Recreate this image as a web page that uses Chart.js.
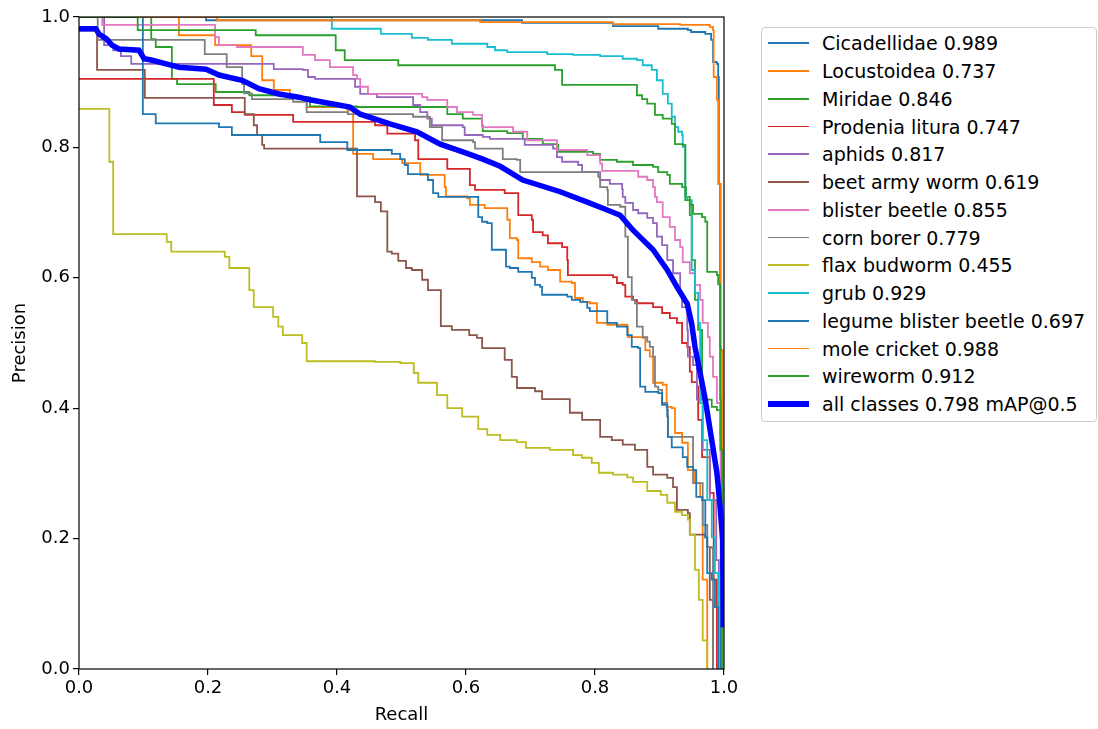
<!DOCTYPE html>
<html>
<head>
<meta charset="utf-8">
<title>Precision-Recall Curve</title>
<script src="https://cdn.jsdelivr.net/npm/chart.js@4.4.0/dist/chart.umd.min.js"></script>
<style>
    body { margin: 0; background: #fff; font-family: "DejaVu Sans", sans-serif; }
    #wrap { position: relative; width: 1098px; height: 729px; }
    #prChart { position: absolute; left: 0; top: 0; }
    .legend {
        position: absolute; left: 761px; top: 27px; width: 336px; height: 395px;
        border: 1px solid #cccccc; border-radius: 4px; box-sizing: border-box; background: #fff;
    }
    .legend-row { position: absolute; left: 0; width: 100%; height: 28px; line-height: 28px; font-size: 19px; color: #000; white-space: nowrap; }
    .legend-line { position: absolute; left: 6px; width: 41px; }
    .legend-label { position: absolute; left: 60px; top: 0; }
</style>
</head>
<body>
<div id="wrap">
    <canvas id="prChart" width="1098" height="729"></canvas>
    <div class="legend" id="prLegend"></div>
</div>
<script>
// Class names, AP@0.5 and colours (matplotlib tab10 cycle)
const classNames = ['Cicadellidae', 'Locustoidea', 'Miridae', 'Prodenia litura', 'aphids', 'beet army worm',
    'blister beetle', 'corn borer', 'flax budworm', 'grub', 'legume blister beetle', 'mole cricket', 'wireworm'];
const classAP = [0.989, 0.737, 0.846, 0.747, 0.817, 0.619, 0.855, 0.779, 0.455, 0.929, 0.697, 0.988, 0.912];
const classColors = ['#1f77b4', '#ff7f0e', '#2ca02c', '#d62728', '#9467bd', '#8c564b',
    '#e377c2', '#7f7f7f', '#bcbd22', '#17becf', '#1f77b4', '#ff7f0e', '#2ca02c'];
const allClassesMAP = 0.798;

// Each curve: recall values where a precision plateau starts, and that plateau's precision
const cicadellidaeR = [0, 0.197, 0.687, 0.828, 0.898, 0.944, 0.949, 0.971, 0.980, 0.983, 0.989, 0.991, 0.992, 0.994, 0.995];
const cicadellidaeP = [1.0, 0.995, 0.991, 0.986, 0.982, 0.980, 0.977, 0.974, 0.965, 0.931, 0.928, 0.908, 0.744, 0.413, 0];

const locustoideaR = [0, 0.155, 0.211, 0.267, 0.284, 0.302, 0.327, 0.353, 0.416, 0.425, 0.456, 0.501, 0.529, 0.567, 0.569, 0.602,
    0.606, 0.629, 0.664, 0.668, 0.679, 0.681, 0.702, 0.715, 0.727, 0.746, 0.764, 0.769, 0.781, 0.792, 0.803, 0.819, 0.850, 0.851,
    0.874, 0.878, 0.885, 0.890, 0.905, 0.911, 0.919, 0.924, 0.935, 0.944, 0.955, 0.963, 0.967, 0.974];
const locustoideaP = [1.0, 0.972, 0.957, 0.940, 0.903, 0.888, 0.877, 0.862, 0.857, 0.790, 0.782, 0.776, 0.758, 0.739, 0.725, 0.722,
    0.712, 0.707, 0.689, 0.661, 0.658, 0.630, 0.624, 0.617, 0.612, 0.594, 0.592, 0.569, 0.563, 0.561, 0.531, 0.528, 0.525, 0.509,
    0.508, 0.489, 0.479, 0.439, 0.436, 0.402, 0.400, 0.362, 0.347, 0.305, 0.285, 0.264, 0.137, 0];

const miridaeR = [0, 0.112, 0.119, 0.144, 0.152, 0.212, 0.264, 0.327, 0.358, 0.431, 0.571, 0.595, 0.625, 0.626, 0.664, 0.688,
    0.718, 0.719, 0.741, 0.743, 0.797, 0.808, 0.834, 0.859, 0.890, 0.898, 0.912, 0.916, 0.935, 0.941, 0.947, 0.950, 0.955, 0.960,
    0.966, 0.981, 0.989, 0.994, 0.997];
const miridaeP = [1.0, 0.966, 0.954, 0.905, 0.897, 0.885, 0.880, 0.877, 0.863, 0.862, 0.851, 0.844, 0.834, 0.825, 0.822, 0.813,
    0.811, 0.805, 0.804, 0.793, 0.790, 0.781, 0.778, 0.773, 0.770, 0.762, 0.758, 0.744, 0.739, 0.724, 0.696, 0.627, 0.566, 0.520,
    0.413, 0.402, 0.397, 0.351, 0];

const prodeniaR = [0, 0.209, 0.237, 0.257, 0.332, 0.459, 0.478, 0.521, 0.526, 0.571, 0.606, 0.614, 0.660, 0.681, 0.702, 0.704,
    0.719, 0.727, 0.749, 0.757, 0.758, 0.828, 0.834, 0.843, 0.847, 0.859, 0.865, 0.890, 0.904, 0.916, 0.927, 0.935, 0.943, 0.947,
    0.950, 0.958, 0.960, 0.966, 0.978, 0.984, 0.989];
const prodeniaP = [0.905, 0.865, 0.854, 0.850, 0.839, 0.834, 0.821, 0.811, 0.782, 0.767, 0.742, 0.735, 0.730, 0.696, 0.689, 0.670,
    0.665, 0.653, 0.647, 0.627, 0.604, 0.601, 0.592, 0.589, 0.571, 0.566, 0.561, 0.555, 0.546, 0.538, 0.531, 0.500, 0.494, 0.456,
    0.440, 0.433, 0.382, 0.325, 0.270, 0.137, 0];

const aphidsR = [0, 0.039, 0.053, 0.065, 0.081, 0.302, 0.347, 0.355, 0.366, 0.428, 0.436, 0.462, 0.518, 0.529, 0.540, 0.547,
    0.595, 0.598, 0.626, 0.637, 0.691, 0.735, 0.741, 0.749, 0.774, 0.780, 0.808, 0.823, 0.842, 0.843, 0.847, 0.859, 0.867, 0.881,
    0.890, 0.896, 0.904, 0.912, 0.921, 0.932, 0.935, 0.943, 0.944, 0.952, 0.958, 0.967, 0.978, 0.988, 0.992];
const aphidsP = [1.0, 0.957, 0.949, 0.940, 0.928, 0.920, 0.919, 0.908, 0.905, 0.893, 0.882, 0.877, 0.865, 0.854, 0.844, 0.834,
    0.831, 0.819, 0.816, 0.813, 0.804, 0.798, 0.785, 0.778, 0.773, 0.762, 0.750, 0.744, 0.736, 0.724, 0.715, 0.704, 0.699, 0.692,
    0.684, 0.663, 0.650, 0.627, 0.607, 0.577, 0.555, 0.520, 0.479, 0.466, 0.413, 0.336, 0.259, 0.167, 0];

const beetArmyWormR = [0, 0.028, 0.102, 0.257, 0.271, 0.276, 0.284, 0.287, 0.431, 0.459, 0.468, 0.478, 0.485, 0.495, 0.507, 0.516,
    0.532, 0.541, 0.561, 0.578, 0.605, 0.617, 0.625, 0.660, 0.671, 0.679, 0.707, 0.718, 0.761, 0.780, 0.808, 0.826, 0.843, 0.862,
    0.881, 0.890, 0.912, 0.921, 0.927, 0.944, 0.947, 0.971, 0.974, 0.978, 0.983];
const beetArmyWormP = [0.979, 0.919, 0.876, 0.851, 0.834, 0.819, 0.804, 0.798, 0.725, 0.716, 0.702, 0.640, 0.637, 0.626, 0.615, 0.612,
    0.597, 0.581, 0.526, 0.520, 0.512, 0.508, 0.492, 0.474, 0.448, 0.431, 0.426, 0.414, 0.393, 0.382, 0.356, 0.351, 0.344, 0.336,
    0.310, 0.298, 0.293, 0.279, 0.244, 0.239, 0.206, 0.202, 0.187, 0.106, 0];

const blisterBeetleR = [0, 0.036, 0.211, 0.217, 0.245, 0.347, 0.366, 0.389, 0.425, 0.431, 0.436, 0.448, 0.532, 0.540, 0.571, 0.586,
    0.611, 0.625, 0.673, 0.695, 0.741, 0.788, 0.808, 0.811, 0.867, 0.881, 0.890, 0.893, 0.896, 0.905, 0.916, 0.924, 0.932, 0.936,
    0.947, 0.955, 0.963, 0.967, 0.975, 0.978, 0.983, 0.989, 0.994, 0.995, 0.997];
const blisterBeetleP = [1.0, 0.988, 0.969, 0.957, 0.954, 0.942, 0.934, 0.923, 0.911, 0.905, 0.893, 0.882, 0.877, 0.873, 0.862, 0.854,
    0.850, 0.831, 0.824, 0.811, 0.796, 0.788, 0.775, 0.764, 0.755, 0.750, 0.739, 0.724, 0.716, 0.693, 0.678, 0.658, 0.647, 0.624,
    0.607, 0.589, 0.566, 0.531, 0.509, 0.479, 0.448, 0.408, 0.336, 0.167, 0];

const cornBorerR = [0, 0.029, 0.195, 0.229, 0.253, 0.256, 0.268, 0.332, 0.353, 0.417, 0.518, 0.544, 0.563, 0.611, 0.614, 0.657,
    0.679, 0.684, 0.805, 0.808, 0.819, 0.820, 0.839, 0.847, 0.851, 0.857, 0.862, 0.865, 0.874, 0.881, 0.885, 0.890, 0.893, 0.898,
    0.904, 0.912, 0.913, 0.952, 0.967, 0.974, 0.981, 0.983];
const cornBorerP = [1.0, 0.965, 0.943, 0.923, 0.897, 0.883, 0.874, 0.870, 0.854, 0.851, 0.847, 0.831, 0.811, 0.808, 0.798, 0.782,
    0.781, 0.762, 0.755, 0.739, 0.735, 0.712, 0.709, 0.663, 0.601, 0.566, 0.561, 0.525, 0.509, 0.502, 0.494, 0.479, 0.433, 0.428,
    0.408, 0.397, 0.356, 0.285, 0.221, 0.187, 0.186, 0];

const flaxBudwormR = [0, 0.047, 0.053, 0.136, 0.143, 0.226, 0.233, 0.264, 0.271, 0.301, 0.309, 0.316, 0.346, 0.353, 0.459, 0.498,
    0.519, 0.526, 0.555, 0.571, 0.594, 0.619, 0.633, 0.653, 0.679, 0.693, 0.730, 0.766, 0.780, 0.795, 0.806, 0.828, 0.850, 0.859,
    0.881, 0.902, 0.912, 0.924, 0.935, 0.944, 0.947, 0.955, 0.961, 0.967, 0.974];
const flaxBudwormP = [0.859, 0.778, 0.667, 0.655, 0.640, 0.632, 0.615, 0.581, 0.555, 0.540, 0.525, 0.512, 0.500, 0.472, 0.471, 0.469,
    0.454, 0.439, 0.420, 0.400, 0.387, 0.368, 0.359, 0.351, 0.348, 0.339, 0.336, 0.328, 0.324, 0.316, 0.301, 0.298, 0.294, 0.287,
    0.273, 0.267, 0.255, 0.241, 0.236, 0.229, 0.206, 0.152, 0.106, 0.044, 0];

const grubR = [0, 0.392, 0.468, 0.516, 0.541, 0.578, 0.633, 0.645, 0.664, 0.726, 0.766, 0.808, 0.843, 0.865, 0.874, 0.888,
    0.896, 0.905, 0.913, 0.919, 0.924, 0.929, 0.935, 0.936, 0.940, 0.943, 0.950, 0.955, 0.960, 0.963, 0.967, 0.974, 0.981, 0.986, 0.991];
const grubP = [1.0, 0.982, 0.974, 0.968, 0.965, 0.959, 0.954, 0.949, 0.946, 0.943, 0.942, 0.940, 0.936, 0.934, 0.926, 0.919,
    0.903, 0.882, 0.867, 0.847, 0.831, 0.824, 0.819, 0.801, 0.724, 0.719, 0.612, 0.577, 0.531, 0.408, 0.351, 0.259, 0.202, 0.147, 0];

const legumeR = [0, 0.099, 0.119, 0.217, 0.237, 0.374, 0.416, 0.485, 0.498, 0.505, 0.510, 0.541, 0.549, 0.557, 0.619, 0.625,
    0.633, 0.640, 0.662, 0.668, 0.681, 0.702, 0.707, 0.715, 0.718, 0.757, 0.764, 0.777, 0.788, 0.792, 0.819, 0.834, 0.850, 0.857,
    0.867, 0.870, 0.878, 0.898, 0.904, 0.912, 0.913, 0.919, 0.936, 0.943, 0.952, 0.957, 0.966, 0.971, 0.974, 0.981, 0.986, 0.991];
const legumeP = [1.0, 0.851, 0.837, 0.831, 0.819, 0.808, 0.796, 0.790, 0.782, 0.773, 0.759, 0.750, 0.730, 0.724, 0.693, 0.686,
    0.684, 0.643, 0.617, 0.615, 0.609, 0.600, 0.589, 0.586, 0.574, 0.571, 0.566, 0.563, 0.554, 0.549, 0.531, 0.525, 0.512, 0.494,
    0.492, 0.433, 0.425, 0.423, 0.405, 0.387, 0.356, 0.340, 0.325, 0.310, 0.305, 0.264, 0.259, 0.202, 0.147, 0.137, 0.095, 0];

const moleCricketR = [0, 0.214, 0.622, 0.828, 0.932, 0.978, 0.983, 0.984, 0.989, 0.991, 0.995, 0.998];
const moleCricketP = [1.0, 0.995, 0.992, 0.989, 0.988, 0.985, 0.980, 0.908, 0.873, 0.744, 0.489, 0];

const wirewormR = [0, 0.091, 0.274, 0.398, 0.412, 0.495, 0.738, 0.749, 0.865, 0.873, 0.881, 0.893, 0.905, 0.919, 0.924, 0.936,
    0.940, 0.947, 0.952, 0.966, 0.971, 0.974, 0.989, 0.991, 0.994, 0.995, 0.997];
const wirewormP = [1.0, 0.980, 0.972, 0.949, 0.934, 0.926, 0.919, 0.896, 0.880, 0.874, 0.867, 0.850, 0.844, 0.836, 0.805, 0.804,
    0.719, 0.712, 0.698, 0.693, 0.686, 0.609, 0.604, 0.590, 0.494, 0.336, 0];

// Mean curve over all classes (drawn as a plain line)
const allClassesR = [0, 0.026, 0.031, 0.043, 0.051, 0.062, 0.093, 0.101, 0.112, 0.135, 0.155, 0.197, 0.217, 0.253, 0.279, 0.310,
    0.341, 0.358, 0.420, 0.436, 0.482, 0.524, 0.560, 0.595, 0.626, 0.653, 0.688, 0.746, 0.788, 0.819, 0.839, 0.859, 0.890, 0.912,
    0.927, 0.943, 0.950, 0.955, 0.963, 0.971, 0.981, 0.989, 0.994, 0.998, 0.999];
const allClassesP = [0.982, 0.982, 0.974, 0.966, 0.957, 0.951, 0.949, 0.936, 0.934, 0.928, 0.923, 0.920, 0.911, 0.903, 0.890, 0.882,
    0.877, 0.873, 0.862, 0.851, 0.836, 0.824, 0.805, 0.793, 0.782, 0.771, 0.750, 0.732, 0.716, 0.704, 0.696, 0.673, 0.643, 0.612,
    0.586, 0.560, 0.529, 0.494, 0.454, 0.413, 0.351, 0.301, 0.248, 0.198, 0.064];

const axisTicks = [0, 0.2, 0.4, 0.6, 0.8, 1.0];

const classCurves = [
    [cicadellidaeR, cicadellidaeP], [locustoideaR, locustoideaP], [miridaeR, miridaeP], [prodeniaR, prodeniaP],
    [aphidsR, aphidsP], [beetArmyWormR, beetArmyWormP], [blisterBeetleR, blisterBeetleP], [cornBorerR, cornBorerP],
    [flaxBudwormR, flaxBudwormP], [grubR, grubP], [legumeR, legumeP], [moleCricketR, moleCricketP], [wirewormR, wirewormP]
];

const fontFamily = '"DejaVu Sans", sans-serif';

function toPoints(rs, ps) {
    return rs.map((r, i) => ({ x: r, y: ps[i] }));
}

// Draws the four spines on top of the curves, like matplotlib
const frameSpines = {
    id: 'frameSpines',
    afterDatasetsDraw(chart) {
        const { ctx, chartArea: a } = chart;
        ctx.save();
        ctx.strokeStyle = '#000';
        ctx.lineWidth = 1.2;
        ctx.strokeRect(a.left, a.top, a.right - a.left, a.bottom - a.top);
        ctx.restore();
    }
};

function buildDatasets() {
    const sets = classCurves.map((c, i) => ({
        label: classNames[i] + ' ' + classAP[i].toFixed(3),
        data: toPoints(c[0], c[1]),
        borderColor: classColors[i],
        borderWidth: 1.8,
        stepped: 'before',
        pointRadius: 0,
        fill: false,
        order: -i
    }));
    sets.push({
        label: 'all classes ' + allClassesMAP.toFixed(3) + ' mAP@0.5',
        data: toPoints(allClassesR, allClassesP),
        borderColor: '#0000ff',
        borderWidth: 5.5,
        pointRadius: 0,
        fill: false,
        tension: 0,
        order: -classCurves.length
    });
    return sets;
}

function axisOptions(titleText, isX) {
    return {
        type: 'linear',
        min: 0,
        max: 1,
        afterFit: s => { if (isX) s.height = 60; else s.width = 79; },
        afterBuildTicks: s => { s.ticks = axisTicks.map(v => ({ value: v })); },
        border: { display: false },
        grid: { drawOnChartArea: false, drawTicks: true, tickLength: 6, color: '#000', lineWidth: 1.2 },
        ticks: {
            padding: 3,
            color: '#000',
            maxRotation: 0,
            autoSkip: false,
            font: { family: fontFamily, size: 18 },
            callback: v => Number(v).toFixed(1)
        },
        title: {
            display: true,
            text: titleText,
            color: '#000',
            font: { family: fontFamily, size: 18 },
            padding: isX ? { top: 4, bottom: 3 } : { top: 10, bottom: 4 }
        }
    };
}

// HTML legend, one row per dataset
function buildLegend(chart) {
    const box = document.getElementById('prLegend');
    box.innerHTML = '';
    chart.data.datasets.forEach((ds, i) => {
        const row = document.createElement('div');
        row.className = 'legend-row';
        row.style.top = (15.3 + 27.75 * i - 14) + 'px';
        const bw = ds.borderWidth;
        row.innerHTML = `
            <span class="legend-line" style="top:${14 - bw / 2}px;height:${bw}px;background:${ds.borderColor}"></span>
            <span class="legend-label">${ds.label}</span>
        `;
        box.appendChild(row);
    });
}

function initializePRChart() {
    const ctx = document.getElementById('prChart');
    const chart = new Chart(ctx, {
        type: 'line',
        data: { datasets: buildDatasets() },
        options: {
            responsive: false,
            animation: false,
            devicePixelRatio: 1,
            layout: { padding: { left: 0, right: 374, top: 17, bottom: 0 } },
            plugins: {
                legend: { display: false },
                tooltip: { enabled: false }
            },
            scales: {
                x: axisOptions('Recall', true),
                y: axisOptions('Precision', false)
            }
        },
        plugins: [frameSpines]
    });
    buildLegend(chart);
}

document.addEventListener('DOMContentLoaded', initializePRChart);
</script>
</body>
</html>
